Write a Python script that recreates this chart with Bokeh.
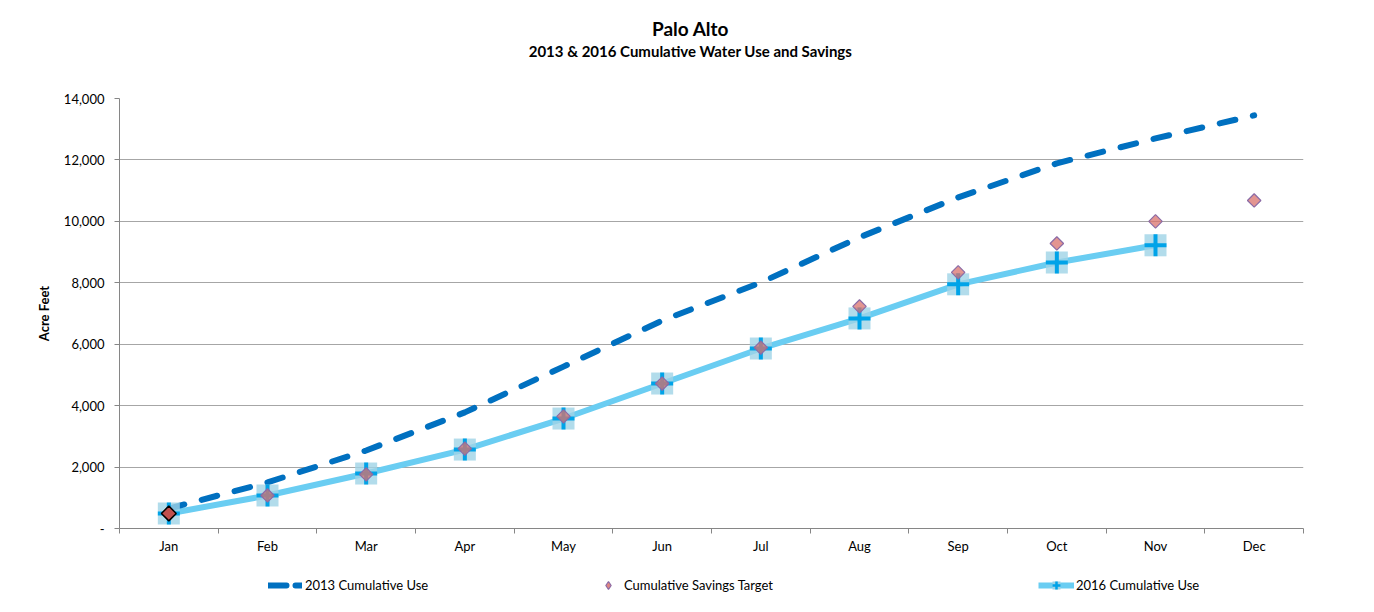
import math
from bokeh.plotting import figure
from bokeh.layouts import column
from bokeh.models import (Range1d, FixedTicker, CustomJSTickFormatter, Legend, LegendItem)
from bokeh.core.properties import value
from bokeh.embed import file_html
from bokeh.resources import INLINE

months = ["Jan", "Feb", "Mar", "Apr", "May", "Jun", "Jul", "Aug", "Sep", "Oct", "Nov", "Dec"]
use_2013 = [650, 1500, 2540, 3780, 5270, 6770, 8010, 9480, 10780, 11890, 12700, 13450]
savings_target = [490, 1075, 1760, 2600, 3650, 4720, 5890, 7230, 8340, 9280, 10000, 10680]
use_2016 = [490, 1075, 1790, 2570, 3580, 4720, 5860, 6840, 7950, 8660, 9220]
title_text = "Palo Alto"
subtitle_text = "2013 & 2016 Cumulative Water Use and Savings"

FONT = "Lato"
W = 1374
FL, FR = 119, 1303   # frame edges (page px); the column aligns all frames

C13 = "#0070C0"
C16 = "#6ACDF2"
CSQ = "#9FD3E6"
CCR = "#00A3E8"
CDF = "#D9716C"
CDL = "#8B6BA6"
ROT = math.pi / 4


def bare(fig):
    fig.axis.visible = False
    fig.grid.grid_line_color = None
    fig.outline_line_color = None
    fig.border_fill_color = "white"
    fig.background_fill_color = "white"


# ---------- title strip ----------
TH = 60
p_top = figure(width=W, height=TH, output_backend="svg", toolbar_location=None,
               x_range=Range1d(FL, FR), y_range=Range1d(0, TH),
               min_border_left=FL, min_border_right=W - FR, min_border_top=0,
               min_border_bottom=0)
bare(p_top)
p_top.text(x=[690], y=[TH - 28], text=[title_text], text_font=value(FONT),
           text_font_size="19px", text_font_style="bold", text_align="center",
           text_baseline="middle", text_color="#000000")
p_top.text(x=[690], y=[TH - 50], text=[subtitle_text], text_font=value(FONT),
           text_font_size="15px", text_font_style="bold", text_align="center",
           text_baseline="middle", text_color="#000000")

# ---------- main chart ----------
xc = [i + 0.5 for i in range(len(months))]
x16 = xc[:len(use_2016)]

p = figure(width=W, height=508, output_backend="svg", toolbar_location=None,
           x_range=Range1d(0, len(months)), y_range=Range1d(0, 14000),
           min_border_left=FL, min_border_right=W - FR, min_border_top=38,
           min_border_bottom=40)
p.outline_line_color = None
p.background_fill_color = "white"
p.border_fill_color = "white"

p.xgrid.grid_line_color = None
p.ygrid.grid_line_color = "#A6A6A6"
p.ygrid.grid_line_width = 1
p.ygrid.ticker = FixedTicker(ticks=list(range(0, 14001, 2000)))

xa = p.xaxis[0]
xa.ticker = FixedTicker(ticks=xc, minor_ticks=list(range(len(months) + 1)))
xa.formatter = CustomJSTickFormatter(args=dict(months=months),
                                     code="return months[Math.floor(tick)] || '';")
xa.major_tick_in = 0
xa.major_tick_out = 0
xa.minor_tick_in = 0
xa.minor_tick_out = 5
xa.minor_tick_line_color = "#868686"
xa.axis_line_color = "#868686"
xa.major_label_text_font = FONT
xa.major_label_text_font_size = "13px"
xa.major_label_text_color = "#000000"
xa.major_label_standoff = 4

ya = p.yaxis[0]
ya.ticker = FixedTicker(ticks=list(range(0, 14001, 2000)))
ya.formatter = CustomJSTickFormatter(code="""
if (tick == 0) return '-';
return tick.toFixed(0).replace(/\\B(?=(\\d{3})+(?!\\d))/g, ',');
""")
ya.major_tick_in = 0
ya.major_tick_out = 5
ya.minor_tick_line_color = None
ya.major_tick_line_color = "#868686"
ya.axis_line_color = "#868686"
ya.major_label_text_font = FONT
ya.major_label_text_font_size = "13px"
ya.major_label_text_color = "#000000"
ya.major_label_standoff = 10
ya.axis_label = "Acre Feet"
ya.axis_label_text_font = FONT
ya.axis_label_text_font_size = "13px"
ya.axis_label_text_font_style = "bold"
ya.axis_label_text_color = "#000000"
ya.axis_label_standoff = 9

p.line(x16, use_2016, line_color=C16, line_width=6, line_cap="round", line_join="round")
p.line(xc, use_2013, line_color=C13, line_width=6, line_dash="16 18",
       line_cap="round", line_join="round")
p.scatter(x16, use_2016, marker="square", size=22, fill_color=CSQ, fill_alpha=0.8,
          line_color=None)
p.scatter(x16, use_2016, marker="cross", size=22, line_color=CCR, line_width=4)
p.scatter(xc, savings_target, marker="square", angle=ROT, size=9.5, fill_color=CDF,
          fill_alpha=0.75, line_color=CDL, line_width=1.2)
p.scatter([xc[0]], [savings_target[0]], marker="square", angle=ROT, size=10.5,
          fill_color="#C0504D", line_color="#000000", line_width=1.5)

# ---------- legend strip ----------
LH = 44
p_leg = figure(width=W, height=LH, output_backend="svg", toolbar_location=None,
               x_range=Range1d(0, 1), y_range=Range1d(0, 1),
               min_border_left=FL, min_border_right=W - FR, min_border_top=0,
               min_border_bottom=0)
bare(p_leg)
off = [-5, -4]  # legend proxies sit outside the visible range
l13 = p_leg.line(off, off, line_color=C13, line_width=6, line_dash="18 9", line_cap="round")
ltg = p_leg.scatter(off, off, marker="diamond", size=12, fill_color=CDF,
                    fill_alpha=0.85, line_color=CDL, line_width=1.2)
l16a = p_leg.line(off, off, line_color=C16, line_width=6)
l16b = p_leg.scatter(off, off, marker="square", size=10, fill_color=CSQ, line_color=None)
l16c = p_leg.scatter(off, off, marker="cross", size=10, line_color=CCR, line_width=2.5)


def mk_legend(label, rends, x, gw, standoff):
    lg = Legend(items=[LegendItem(label=label, renderers=rends)], location=(x - FL, 17),
                orientation="horizontal", glyph_width=gw, glyph_height=20,
                label_standoff=standoff, padding=0, margin=0, border_line_color=None,
                background_fill_alpha=0, label_text_font=FONT,
                label_text_font_size="13px", label_text_color="#000000")
    p_leg.add_layout(lg, "center")


mk_legend("2013 Cumulative Use", [l13], 268, 34, 3)
mk_legend("Cumulative Savings Target", [ltg], 598, 20, 6)
mk_legend("2016 Cumulative Use", [l16a, l16b, l16c], 1038, 36, 2)

layout = column(p_top, p, p_leg, spacing=0)
open("out.html", "w").write(file_html(layout, INLINE))
